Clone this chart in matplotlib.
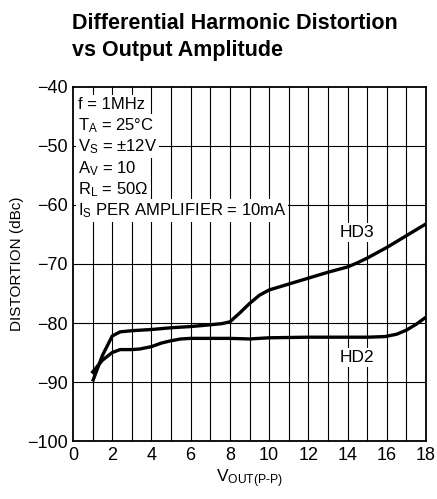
import matplotlib
matplotlib.use('Agg')
import matplotlib.pyplot as plt
import numpy as np

plt.rcParams['font.family'] = ['Liberation Sans Narrow', 'Liberation Sans', 'DejaVu Sans']
plt.rcParams['mathtext.fontset'] = 'custom'
plt.rcParams['mathtext.rm'] = 'Liberation Sans'
plt.rcParams['mathtext.it'] = 'Liberation Sans'

# curves
hd3_x = [1.0, 1.5, 2.0, 2.4, 3.0, 4.0, 5.0, 6.0, 7.0, 7.6, 8.0, 8.5, 9.0, 9.5, 10.0, 11.0, 12.0, 13.0, 14.0, 14.5, 15.0, 16.0, 17.0, 18.0]
hd3_y = [-89.9, -85.5, -82.2, -81.5, -81.3, -81.1, -80.8, -80.6, -80.3, -80.1, -79.8, -78.3, -76.7, -75.3, -74.4, -73.4, -72.4, -71.4, -70.5, -69.8, -69.0, -67.2, -65.2, -63.2]
hd2_x = [0.95, 1.5, 2.0, 2.4, 3.0, 3.4, 4.0, 4.5, 5.0, 5.5, 6.0, 7.0, 8.0, 9.0, 10.0, 12.0, 14.0, 15.0, 15.9, 16.5, 17.0, 17.5, 18.0]
hd2_y = [-88.5, -86.3, -85.0, -84.5, -84.5, -84.4, -84.0, -83.4, -83.0, -82.7, -82.6, -82.6, -82.6, -82.7, -82.5, -82.4, -82.4, -82.4, -82.3, -81.9, -81.2, -80.2, -79.0]

x_ticks = np.arange(0, 19, 2)
y_ticks = np.arange(-100, -39, 10)
notes = ['f = 1MHz', r'T$_\mathregular{A}$ = 25°C', r'V$_\mathregular{S}$ = ±12V',
         r'A$_\mathregular{V}$ = 10', r'R$_\mathregular{L}$ = 50Ω',
         r'I$_\mathregular{S}$ PER AMPLIFIER = 10mA']

fig = plt.figure(figsize=(4.37, 4.99), dpi=100)
ax = fig.add_axes([0.167, 0.116, 0.808, 0.710])

for v in range(1, 18):
    ax.axvline(v, color='black', lw=0.8, zorder=1)
for v in range(-90, -40, 10):
    ax.axhline(v, color='black', lw=0.8, zorder=1)

ax.plot(hd3_x, hd3_y, color='black', lw=2.4, solid_capstyle='butt', zorder=3)
ax.plot(hd2_x, hd2_y, color='black', lw=2.4, solid_capstyle='butt', zorder=3)

ax.set_xlim(0, 18)
ax.set_ylim(-100, -40)
ax.set_xticks(x_ticks)
ax.set_yticks(y_ticks)
ax.set_yticklabels(['\u2212%d' % abs(v) for v in y_ticks])
ax.tick_params(length=0, labelsize=13, pad=4)
for s in ax.spines.values():
    s.set_linewidth(1.3)

ax.set_ylabel('DISTORTION (dBc)', fontsize=11, labelpad=2)
ax.set_xlabel(r'V$_\mathregular{OUT(P\text{-}P)}$', fontsize=12.5, labelpad=3)

for i, t in enumerate(notes):
    ax.text(0.25, -43.0 - i * 3.6, t, fontsize=12, va='center', ha='left',
            bbox=dict(facecolor='white', edgecolor='none', pad=1.5), zorder=4)

ax.text(14.5, -64.7, 'HD3', fontsize=12.5, ha='center', va='center',
        bbox=dict(facecolor='white', edgecolor='none', pad=1.5), zorder=4)
ax.text(14.5, -85.8, 'HD2', fontsize=12.5, ha='center', va='center',
        bbox=dict(facecolor='white', edgecolor='none', pad=1.5), zorder=4)

fig.text(0.165, 0.952, 'Differential Harmonic Distortion', fontsize=15.5,
         fontweight='bold', ha='left', va='center')
fig.text(0.165, 0.898, 'vs Output Amplitude', fontsize=15.5,
         fontweight='bold', ha='left', va='center')

fig.savefig('out.png', dpi=100)
